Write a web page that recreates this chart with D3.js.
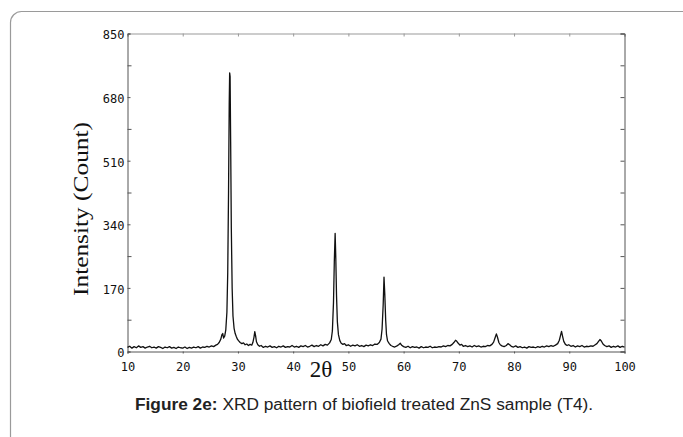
<!DOCTYPE html>
<html lang="en">
<head>
  <meta charset="UTF-8">
  <title>XRD pattern - ZnS T4</title>
  <script src="https://d3js.org/d3.v7.min.js"></script>
  <style>
    body { margin: 0; background: #fff; }
    svg { display: block; }
    .tick text { font-family: "DejaVu Sans Mono", monospace; font-size: 12px; fill: #111; }
    .axis path, .axis line { stroke: #555; }
    .topaxis path, .topaxis line { stroke: #999; }
  </style>
</head>
<body>
<svg width="683" height="437"></svg>
<script>
// tick values
const xTicks = [10, 20, 30, 40, 50, 60, 70, 80, 90, 100];
const yTicks = [0, 170, 340, 510, 680, 850];
const yMinor = [85, 255, 425, 595, 765];

// scan: [2theta, counts]
const scan = [
  [10.0,11],[10.4,14],[10.8,9],[11.2,13],[11.6,10],[12.0,15],[12.4,11],[12.8,13],[13.2,9],[13.6,12],
  [14.0,14],[14.4,10],[14.8,12],[15.2,9],[15.6,13],[16.0,11],[16.4,8],[16.8,12],[17.2,10],[17.6,13],
  [18.0,9],[18.4,11],[18.8,8],[19.2,12],[19.6,10],[20.0,9],[20.4,12],[20.8,8],[21.2,11],[21.6,9],
  [22.0,12],[22.4,10],[22.8,13],[23.2,9],[23.6,12],[24.0,11],[24.4,14],[24.8,12],[25.2,15],[25.6,13],
  [26.0,17],[26.3,19],[26.6,24],[26.9,33],[27.1,45],[27.25,48],[27.4,36],[27.6,41],[27.8,58],[28.0,105],
  [28.15,210],[28.3,430],[28.42,660],[28.5,745],[28.58,735],[28.68,560],[28.8,330],[28.95,170],[29.1,95],[29.3,62],
  [29.5,48],[29.7,40],[29.9,33],[30.1,29],[30.4,24],[30.7,21],[31.0,23],[31.3,18],[31.6,20],[31.9,16],
  [32.2,19],[32.5,17],[32.7,24],[32.9,38],[33.05,53],[33.2,42],[33.35,26],[33.6,18],[33.9,14],[34.2,16],
  [34.6,11],[35.0,14],[35.4,12],[35.8,15],[36.2,11],[36.6,13],[37.0,10],[37.4,14],[37.8,12],[38.2,15],
  [38.6,11],[39.0,13],[39.4,12],[39.8,16],[40.2,12],[40.6,14],[41.0,11],[41.4,15],[41.8,13],[42.2,16],
  [42.6,12],[43.0,14],[43.4,17],[43.8,13],[44.2,16],[44.6,14],[45.0,18],[45.4,15],[45.8,19],[46.2,17],
  [46.6,23],[46.9,32],[47.1,55],[47.3,130],[47.45,240],[47.6,316],[47.72,250],[47.85,150],[48.0,80],[48.2,45],
  [48.45,29],[48.7,22],[49.0,19],[49.3,21],[49.6,16],[50.0,18],[50.4,14],[50.8,17],[51.2,15],[51.6,18],
  [52.0,14],[52.4,16],[52.8,13],[53.2,17],[53.6,15],[54.0,18],[54.4,16],[54.8,20],[55.2,19],[55.6,24],
  [55.9,33],[56.1,60],[56.3,125],[56.45,199],[56.6,150],[56.75,85],[56.9,45],[57.1,28],[57.4,21],[57.7,16],
  [58.0,14],[58.4,12],[58.8,15],[59.1,18],[59.4,22],[59.7,16],[60.0,13],[60.4,11],[60.8,14],[61.2,10],
  [61.6,13],[62.0,11],[62.4,12],[62.8,9],[63.2,13],[63.6,10],[64.0,12],[64.4,11],[64.8,14],[65.2,10],
  [65.6,12],[66.0,11],[66.4,13],[66.8,12],[67.2,15],[67.6,13],[68.0,16],[68.4,15],[68.8,19],[69.1,24],
  [69.4,30],[69.6,28],[69.9,22],[70.2,17],[70.5,19],[70.8,14],[71.2,16],[71.6,13],[72.0,15],[72.4,12],
  [72.8,16],[73.2,13],[73.6,15],[74.0,12],[74.4,14],[74.8,13],[75.2,16],[75.6,15],[76.0,19],[76.3,25],
  [76.55,36],[76.8,47],[77.0,38],[77.25,24],[77.5,18],[77.8,15],[78.2,13],[78.6,16],[78.9,21],[79.2,18],
  [79.5,14],[79.9,12],[80.3,15],[80.7,11],[81.1,13],[81.5,10],[81.9,12],[82.3,9],[82.7,13],[83.1,11],
  [83.5,12],[83.9,10],[84.3,13],[84.7,11],[85.1,14],[85.5,12],[85.9,15],[86.3,13],[86.7,16],[87.1,14],
  [87.5,17],[87.9,21],[88.2,30],[88.45,45],[88.6,54],[88.8,40],[89.0,27],[89.3,19],[89.6,16],[89.9,18],
  [90.3,14],[90.7,16],[91.1,12],[91.5,15],[91.9,13],[92.3,16],[92.7,12],[93.1,14],[93.5,13],[93.9,15],
  [94.3,14],[94.7,18],[95.0,21],[95.3,27],[95.55,32],[95.8,28],[96.1,20],[96.4,16],[96.8,13],[97.2,15],
  [97.6,11],[98.0,14],[98.4,12],[98.8,15],[99.2,11],[99.6,14],[100.0,12]
];

const svg = d3.select("svg");

// outer rounded frame (runs off the right/bottom edges)
svg.append("rect")
  .attr("x", 10.5).attr("y", 11.5)
  .attr("width", 690).attr("height", 450)
  .attr("rx", 11).attr("ry", 11)
  .attr("fill", "none").attr("stroke", "#9a9a9a").attr("stroke-width", 1.2);

const plotL = 127.5, plotR = 624.5, plotT = 33.5, plotB = 351.5;
const x = d3.scaleLinear().domain([10, 100]).range([plotL, plotR]);
const y = d3.scaleLinear().domain([0, 850]).range([plotB, plotT]);

// top + right frame of the plot
svg.append("g").attr("class", "topaxis")
  .attr("transform", `translate(0,${plotT})`)
  .call(d3.axisTop(x).tickValues(xTicks).tickSize(-3).tickFormat(""));

svg.append("g").attr("class", "axis")
  .attr("transform", `translate(${plotR},0)`)
  .call(d3.axisRight(y).tickValues(yTicks.concat(yMinor)).tickSize(-4).tickFormat(""));

// left axis: labelled majors + minors, ticks pointing in
svg.append("g").attr("class", "axis")
  .attr("transform", `translate(${plotL},0)`)
  .call(d3.axisLeft(y).tickValues(yTicks).tickSize(-3).tickPadding(3))
  .call(g => g.selectAll(".tick text").attr("dy", "0.45em"));

svg.append("g").attr("class", "axis")
  .attr("transform", `translate(${plotL},0)`)
  .call(d3.axisLeft(y).tickValues(yMinor).tickSize(-4).tickFormat(""))
  .call(g => g.select(".domain").remove());

svg.append("g").attr("class", "axis")
  .attr("transform", `translate(0,${plotB})`)
  .call(d3.axisBottom(x).tickValues(xTicks).tickSize(2).tickPadding(9));

// pattern line
const line = d3.line().x(d => x(d[0])).y(d => y(d[1]));
svg.append("path")
  .datum(scan)
  .attr("d", line)
  .attr("fill", "none")
  .attr("stroke", "#111")
  .attr("stroke-width", 1.3)
  .attr("stroke-linejoin", "round");

// axis titles
svg.append("text")
  .attr("transform", "translate(88,209) rotate(-90)")
  .attr("text-anchor", "middle")
  .attr("font-family", "'Liberation Serif', 'Times New Roman', serif")
  .attr("font-size", 21)
  .attr("textLength", 174)
  .attr("lengthAdjust", "spacingAndGlyphs")
  .attr("fill", "#111")
  .text("Intensity (Count)");

svg.append("text")
  .attr("x", 321).attr("y", 377)
  .attr("text-anchor", "middle")
  .attr("font-family", "'Liberation Serif', 'Times New Roman', serif")
  .attr("font-size", 23)
  .attr("fill", "#111")
  .text("2θ");

// caption
const cap = svg.append("text")
  .attr("x", 135).attr("y", 410)
  .attr("font-family", "'Liberation Sans', Arial, sans-serif")
  .attr("font-size", 17.3)
  .attr("fill", "#222");
cap.append("tspan").attr("font-weight", "bold").text("Figure 2e:");
cap.append("tspan").text(" XRD pattern of biofield treated ZnS sample (T4).");
</script>
</body>
</html>
